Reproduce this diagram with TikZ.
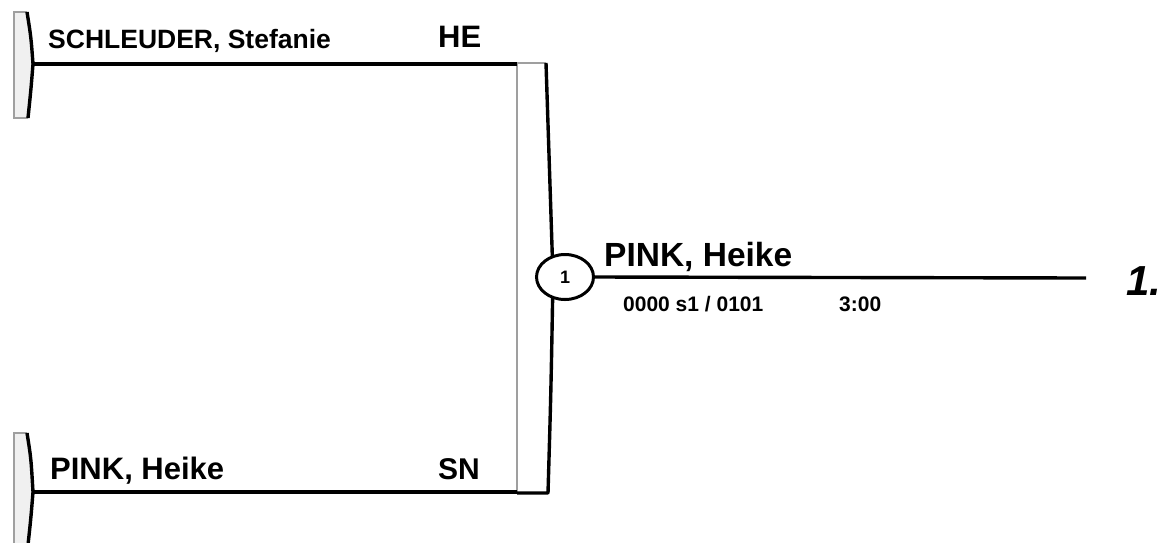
\documentclass[tikz,border=0pt]{standalone}
\usepackage{fontspec}
\setmainfont{Liberation Sans}
\usetikzlibrary{shapes.geometric}
\begin{document}
\begin{tikzpicture}[x=1pt,y=-1pt,
  conn/.style={line width=3.4pt,black},
  edgegray/.style={line width=1.8pt,gray!75},
  edgeblack/.style={line width=3.4pt,black,line join=round},
  lbl/.style={inner sep=0pt,anchor=base west,font=\bfseries},
]
\useasboundingbox (0,0) rectangle (1161,542);
% left brackets
\foreach \yt/\ym/\yb in {12/64/118, 433/492/545} {
  \fill[gray!12] (14,\yt) -- (27,\yt) .. controls (31,\yt+25) .. (33,\ym) .. controls (31,\ym+25) .. (28,\yb) -- (14,\yb) -- cycle;
  \draw[edgegray] (27,\yt) -- (14,\yt) -- (14,\yb) -- (28,\yb);
  \draw[edgeblack] (27,\yt) .. controls (31,\yt+25) .. (33,\ym) .. controls (31,\ym+25) .. (28,\yb);
}
\coordinate (tb) at (33,64);
\coordinate (bb) at (33,492);
% centre bracket
\coordinate (ctl) at (517,63);
\coordinate (ctr) at (546,63);
\coordinate (cmid) at (553,277);
\coordinate (cbr) at (548,493);
\coordinate (cbl) at (517,493);
\draw[edgegray] (cbl) -- (ctl) -- (ctr);
\draw[edgeblack] (ctr) .. controls (550,170) .. (cmid) .. controls (551,390) .. (cbr) -- (cbl);
% connectors
\draw[conn] (tb) -- (ctl |- tb);
\draw[conn] (bb) -- (cbl |- bb);
\node[ellipse,draw=black,line width=3pt,fill=white,minimum width=57pt,minimum height=45pt,inner sep=0pt,font=\bfseries\fontsize{18}{20}\selectfont] (m) at (565,277) {1};
\coordinate (out) at (1086,278);
\draw[conn] (m.east) -- (out);
% labels
\node[lbl,font=\bfseries\fontsize{26.5}{30}\selectfont] (n1) at (48,48) {SCHLEUDER, Stefanie};
\node[lbl,font=\bfseries\fontsize{31}{36}\selectfont] (c1) at (438,47) {HE};
\node[lbl,font=\bfseries\fontsize{31}{36}\selectfont] (n2) at (50,479) {PINK, Heike};
\node[lbl,font=\bfseries\fontsize{30}{36}\selectfont] (c2) at (438,479) {SN};
\node[lbl,font=\bfseries\fontsize{33.5}{38}\selectfont] (w) at (604,266) {PINK, Heike};
\node[lbl,font=\bfseries\fontsize{21}{25}\selectfont] (s) at (623,311) {0000 s1 / 0101};
\node[lbl,font=\bfseries\fontsize{21}{25}\selectfont] (t) at (839,311) {3:00};
\node[lbl,font=\bfseries\itshape\fontsize{42}{48}\selectfont] (p) at (1126,295) {1.};
\end{tikzpicture}
\end{document}
